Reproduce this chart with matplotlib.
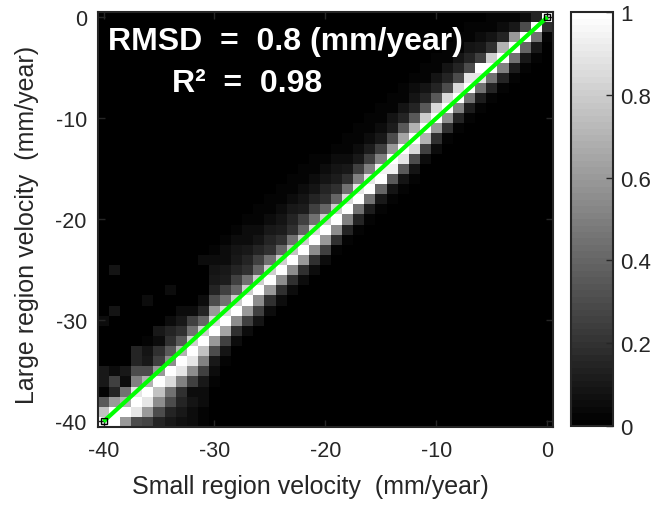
import numpy as np
import matplotlib
matplotlib.use("Agg")
import matplotlib.pyplot as plt

plt.rcParams["font.family"] = ["Liberation Sans", "DejaVu Sans"]
plt.rcParams["axes.unicode_minus"] = False

# ---------------------------------------------------------------------------
# Data: 1-unit bins, columns = small region velocity, rows = large region
# velocity. Each column is given as the top row it starts at and the
# (column-normalised, percent) values going downward.
# ---------------------------------------------------------------------------
small_vel = np.arange(-40, 1)
large_vel = np.arange(-40, 1)

col_top = [
    -30, -29, -35, -33, -32, -31, -30, -29, -29, -28,   # -40 .. -31
    -23, -22, -21, -20, -19, -18, -17, -16, -15, -14,   # -30 .. -21
    -13, -12, -11, -10, -9, -8, -7, -6, -5, -4,         # -20 .. -11
    -3, -2, -1, 0, 0, 0, 0, 0, 0, 0,                    # -10 .. -1
    0,                                                  # 0
]

col_vals = [
    [5, 0, 0, 0, 0, 10, 10, 2, 35, 75, 100],
    [8, 0, 0, 0, 0, 0, 5, 25, 15, 60, 100, 100],
    [10, 5, 45, 70, 100, 60],
    [15, 15, 30, 50, 90, 100, 90, 30],
    [3, 8, 10, 30, 70, 100, 90, 60, 28],
    [10, 5, 20, 25, 60, 100, 75, 55, 30, 15],
    [5, 15, 20, 35, 55, 100, 85, 45, 30, 15, 10],
    [5, 10, 20, 35, 70, 100, 90, 50, 20, 15, 10, 7],
    [5, 25, 45, 80, 100, 90, 55, 25, 5, 8, 5, 5],
    [5, 15, 40, 80, 100, 75, 50, 25, 10, 5, 5, 3, 2],
    [3, 5, 8, 10, 15, 30, 60, 85, 100, 60, 30, 10, 5, 3],
    [3, 5, 5, 10, 12, 25, 45, 85, 100, 65, 25, 8, 3],
    [3, 5, 8, 10, 15, 25, 40, 80, 100, 55, 20, 5],
    [3, 5, 5, 10, 15, 20, 45, 80, 100, 60, 25, 5],
    [2, 3, 5, 8, 15, 25, 40, 80, 100, 55, 25, 8],
    [2, 3, 5, 10, 15, 20, 45, 80, 100, 60, 20, 5],
    [2, 3, 5, 8, 12, 20, 40, 80, 100, 55, 20, 5],
    [2, 3, 5, 10, 15, 20, 45, 75, 100, 55, 20, 5],
    [2, 3, 5, 8, 12, 25, 40, 80, 100, 60, 20, 5],
    [2, 3, 5, 8, 15, 25, 45, 85, 100, 55, 20, 5],
    [0, 3, 5, 8, 15, 20, 40, 80, 100, 60, 25, 5],
    [0, 2, 5, 8, 12, 20, 40, 80, 100, 55, 20, 3],
    [0, 2, 3, 5, 10, 20, 45, 85, 100, 50, 15, 3],
    [0, 2, 3, 5, 10, 25, 50, 90, 100, 45, 15, 3],
    [0, 2, 3, 5, 12, 25, 50, 90, 100, 45, 12, 2],
    [0, 2, 3, 5, 10, 25, 50, 95, 100, 40, 10, 2],
    [0, 2, 3, 8, 12, 30, 60, 100, 95, 35, 8, 2],
    [0, 2, 3, 8, 15, 35, 65, 100, 90, 35, 8, 2],
    [0, 2, 5, 8, 15, 35, 70, 100, 85, 30, 8, 2],
    [0, 2, 3, 8, 15, 35, 80, 100, 70, 25, 5],
    [0, 2, 3, 8, 15, 35, 85, 100, 60, 20, 5],
    [0, 2, 3, 8, 15, 30, 85, 100, 55, 20, 3],
    [0, 2, 3, 8, 15, 30, 85, 100, 50, 15, 3],
    [0, 2, 3, 8, 15, 30, 90, 100, 45, 12, 3],
    [0, 2, 5, 10, 25, 100, 90, 45, 12, 3],
    [2, 3, 8, 20, 80, 100, 45, 15, 3],
    [2, 5, 15, 70, 100, 50, 15, 3],
    [3, 10, 60, 100, 45, 12, 3],
    [5, 30, 100, 40, 10, 2],
    [15, 100, 45, 10, 2],
    [100, 20, 3],
]

# isolated faint cells away from the band (x, y, percent)
extra_cells = [(-39, -25, 8), (-36, -28, 6), (-34, -27, 5), (-31, -24, 5)]

rmsd_text = "RMSD  =  0.8 (mm/year)"
r2_text = "R²  =  0.98"

# --- Assemble the grid ------------------------------------------------------
grid = np.zeros((len(large_vel), len(small_vel)))
for ci, (top, vals) in enumerate(zip(col_top, col_vals)):
    for k, v in enumerate(vals):
        grid[top - k + 40, ci] = v / 100.0
for x, y, v in extra_cells:
    grid[y + 40, x + 40] = v / 100.0

# --- Figure -----------------------------------------------------------------
fig = plt.figure(figsize=(6.51, 5.06), dpi=100)
ax = fig.add_axes([0.1505, 0.1551, 0.6989, 0.8192])
cax = fig.add_axes([0.8771, 0.1561, 0.0645, 0.818])

dark = "#262626"
im = ax.imshow(grid, cmap=plt.get_cmap("gray", 64), vmin=0, vmax=1,
               origin="lower", aspect="auto", interpolation="nearest",
               extent=[small_vel[0] - 0.5, small_vel[-1] + 0.5,
                       large_vel[0] - 0.5, large_vel[-1] + 0.5])
ax.plot([small_vel[0], small_vel[-1]], [large_vel[0], large_vel[-1]],
        color="#00ff00", linewidth=3, solid_capstyle="butt")
# small square markers at the line's end points
ax.plot([small_vel[0], small_vel[-1]], [large_vel[0], large_vel[-1]],
        linestyle="none", marker="s", markersize=5,
        markerfacecolor="none", markeredgecolor="black", markeredgewidth=1)

ax.set_xlim(-40.5, 0.5)
ax.set_ylim(-40.5, 0.5)
ax.set_xticks([-40, -30, -20, -10, 0])
ax.set_yticks([-40, -30, -20, -10, 0])
ax.tick_params(direction="in", length=5, width=1, colors=dark,
               top=True, right=True, labelsize=15.5)
ax.tick_params(axis="x", pad=10)
ax.tick_params(axis="y", pad=8)
for sp in ax.spines.values():
    sp.set_color(dark)
    sp.set_linewidth(1.5)

ax.set_xlabel("Small region velocity  (mm/year)", fontsize=18, color=dark)
ax.set_ylabel("Large region velocity  (mm/year)", fontsize=18, color=dark)
ax.xaxis.set_label_coords(0.467, -0.115)
ax.yaxis.set_label_coords(-0.13, 0.489)

ax.text(0.022, 0.911, rmsd_text, transform=ax.transAxes, color="white",
        fontsize=23, fontweight="bold", va="baseline", ha="left")
ax.text(0.163, 0.809, r2_text, transform=ax.transAxes, color="white",
        fontsize=23, fontweight="bold", va="baseline", ha="left")

cb = fig.colorbar(im, cax=cax)
cb.set_ticks([0, 0.2, 0.4, 0.6, 0.8, 1])
cb.set_ticklabels(["0", "0.2", "0.4", "0.6", "0.8", "1"])
cb.ax.tick_params(direction="in", length=5, width=1, colors=dark,
                  labelsize=16, pad=5)
cb.outline.set_edgecolor(dark)
cb.outline.set_linewidth(1.5)

fig.savefig("out.png", dpi=100)
